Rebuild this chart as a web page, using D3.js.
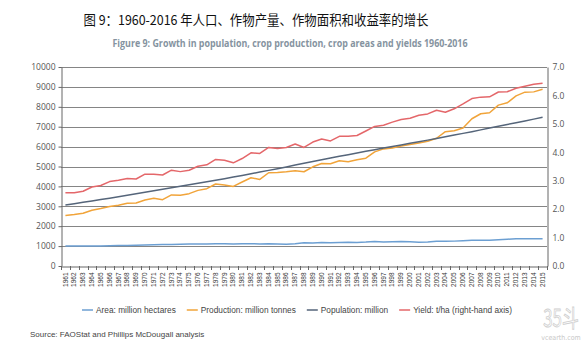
<!DOCTYPE html>
<html>
<head>
<meta charset="utf-8">
<script src="https://cdn.jsdelivr.net/npm/d3@7"></script>
<style>
  body { margin: 0; background: #fff; }
  svg { display: block; }
</style>
</head>
<body>
<div id="chart"></div>
<script>
const width = 584
const height = 347
const margin = ({top: 67, right: 37, bottom: 81, left: 61})

// one value per year, 1961-2015
const years = d3.range(1961, 2016)

const area = [1000, 1000, 1000, 1005, 1010, 1015, 1025, 1035, 1045, 1055,
  1065, 1080, 1085, 1095, 1100, 1105, 1110, 1115, 1115, 1110,
  1115, 1120, 1110, 1115, 1105, 1095, 1120, 1170, 1160, 1175,
  1170, 1185, 1190, 1180, 1200, 1230, 1210, 1220, 1225, 1215,
  1190, 1205, 1240, 1245, 1250, 1270, 1290, 1300, 1300, 1320,
  1345, 1365, 1370, 1370, 1375]

const production = [2535, 2585, 2650, 2800, 2885, 2985, 3050, 3150, 3170, 3320,
  3400, 3335, 3570, 3550, 3635, 3800, 3885, 4120, 4070, 4000,
  4220, 4435, 4350, 4685, 4700, 4735, 4785, 4735, 4985, 5150,
  5135, 5285, 5235, 5335, 5420, 5735, 5885, 5935, 6035, 6100,
  6185, 6270, 6420, 6750, 6800, 6935, 7400, 7650, 7700, 8085,
  8200, 8550, 8735, 8750, 8885]

const population = [3070, 3130, 3200, 3270, 3340, 3410, 3480, 3555, 3630, 3705,
  3785, 3860, 3935, 4010, 4085, 4160, 4235, 4310, 4390, 4470,
  4550, 4635, 4720, 4805, 4890, 4980, 5070, 5160, 5250, 5340,
  5425, 5510, 5595, 5680, 5765, 5845, 5925, 6005, 6085, 6165,
  6245, 6325, 6405, 6490, 6580, 6665, 6750, 6840, 6930, 7020,
  7110, 7200, 7290, 7380, 7470]

const yieldHa = [2.58, 2.58, 2.63, 2.78, 2.83, 2.97, 3.02, 3.08, 3.06, 3.23,
  3.23, 3.20, 3.37, 3.32, 3.37, 3.51, 3.56, 3.75, 3.72, 3.63,
  3.78, 3.98, 3.96, 4.17, 4.13, 4.17, 4.29, 4.17, 4.36, 4.47,
  4.40, 4.56, 4.56, 4.59, 4.75, 4.91, 4.95, 5.06, 5.15, 5.20,
  5.30, 5.35, 5.48, 5.41, 5.53, 5.70, 5.89, 5.94, 5.95, 6.12,
  6.13, 6.25, 6.32, 6.39, 6.43]

const leftTicks = d3.range(0, 10001, 1000)
const rightTicks = [0, 1, 2, 3, 4, 5, 6, 7]

const series = [
  {name: "Area: million hectares", values: area, color: "#6c9fd2", axis: "left"},
  {name: "Production: million tonnes", values: production, color: "#f1a43a", axis: "left"},
  {name: "Population: million", values: population, color: "#55657a", axis: "left"},
  {name: "Yield: t/ha (right-hand axis)", values: yieldHa, color: "#e4676a", axis: "right"}
]

const x = d3.scaleBand()
  .domain(years)
  .range([margin.left, width - margin.right])
  .padding(0)

const y = d3.scaleLinear()
  .domain([0, 10000])
  .range([height - margin.bottom, margin.top])

const y2 = d3.scaleLinear()
  .domain([0, 7])
  .range([height - margin.bottom, margin.top])

const svg = d3.select("#chart")
  .append("svg")
  .attr("width", width)
  .attr("height", height)
  .attr("viewBox", [0, 0, width, height])

// titles
svg.append("text")
  .attr("x", 256)
  .attr("y", 25)
  .attr("text-anchor", "middle")
  .attr("font-family", "Noto Sans CJK SC")
  .attr("font-size", 13.5)
  .attr("fill", "#111")
  .attr("textLength", 345)
  .attr("lengthAdjust", "spacingAndGlyphs")
  .text("图 9：1960-2016 年人口、作物产量、作物面积和收益率的增长")

svg.append("text")
  .attr("x", 290)
  .attr("y", 47)
  .attr("text-anchor", "middle")
  .attr("font-family", "Open Sans")
  .attr("font-weight", "bold")
  .attr("font-size", 10.5)
  .attr("fill", "#8593a0")
  .attr("textLength", 355)
  .attr("lengthAdjust", "spacingAndGlyphs")
  .text("Figure 9: Growth in population, crop production, crop areas and yields 1960-2016")

// horizontal gridlines from the left axis
svg.append("g")
  .attr("class", "grid")
  .selectAll("line")
  .data(leftTicks.filter(d => d > 0))
  .join("line")
  .attr("x1", margin.left)
  .attr("x2", width - margin.right)
  .attr("y1", d => Math.round(y(d)) + 0.5)
  .attr("y2", d => Math.round(y(d)) + 0.5)
  .attr("stroke", "#858585")
  .attr("stroke-width", 1)

const yAxis = g => g
  .attr("transform", `translate(${margin.left + 0.5},0)`)
  .call(d3.axisLeft(y).tickValues(leftTicks).tickSize(3).tickSizeOuter(0).tickFormat(d3.format("d")))
  .call(g => g.selectAll(".domain, .tick line").attr("stroke", "#666"))
  .call(g => g.selectAll("text")
    .attr("font-family", "Open Sans")
    .attr("font-size", 8.5)
    .attr("fill", "#555")
    .attr("x", -6))

const y2Axis = g => g
  .attr("transform", `translate(${width - margin.right + 0.5},0)`)
  .call(d3.axisRight(y2).tickValues(rightTicks).tickSize(0).tickSizeOuter(0).tickFormat(d3.format(".1f")))
  .call(g => g.selectAll(".domain").attr("stroke", "#666"))
  .call(g => g.selectAll("text")
    .attr("font-family", "Open Sans")
    .attr("font-size", 8.5)
    .attr("fill", "#555")
    .attr("x", 5))

const xAxis = g => g
  .attr("transform", `translate(0,${height - margin.bottom + 0.5})`)
  .call(d3.axisBottom(x).tickSize(0).tickSizeOuter(0))
  .call(g => g.select(".domain").attr("stroke", "#666"))
  .call(g => g.selectAll(".tick text")
    .attr("font-family", "Liberation Sans")
    .attr("font-size", 6.5)
    .attr("fill", "#333")
    .attr("text-anchor", "end")
    .attr("transform", "rotate(-90)")
    .attr("x", -6)
    .attr("y", 0)
    .attr("dy", "0.32em"))

svg.append("g").attr("class", "xaxis").call(xAxis)

// tick marks between the year bands
svg.append("g")
  .attr("class", "xticks")
  .selectAll("line")
  .data(years.concat([null]))
  .join("line")
  .attr("x1", (d, i) => Math.round(margin.left + i * x.step()) + 0.5)
  .attr("x2", (d, i) => Math.round(margin.left + i * x.step()) + 0.5)
  .attr("y1", height - margin.bottom)
  .attr("y2", height - margin.bottom + 4)
  .attr("stroke", "#666")

svg.append("g").attr("class", "yaxis").call(yAxis)
svg.append("g").attr("class", "yaxis2").call(y2Axis)

// the four series
series.forEach(s => {
  const scale = s.axis === "right" ? y2 : y
  const line = d3.line()
    .x((d, i) => x(years[i]) + x.bandwidth() / 2)
    .y(d => scale(d))
  svg.append("path")
    .datum(s.values)
    .attr("fill", "none")
    .attr("stroke", s.color)
    .attr("stroke-width", 1.5)
    .attr("stroke-linejoin", "round")
    .attr("d", line)
})

// legend, laid out left to right
const legend = svg.append("g")
  .attr("class", "legend")
  .attr("transform", "translate(82,310)")

let lx = 0
series.forEach(s => {
  legend.append("line")
    .attr("x1", lx)
    .attr("x2", lx + 11)
    .attr("stroke", s.color)
    .attr("stroke-width", 1.5)
  const t = legend.append("text")
    .attr("x", lx + 14)
    .attr("dy", "0.35em")
    .attr("font-family", "Liberation Sans")
    .attr("font-size", 8.3)
    .attr("fill", "#444")
    .text(s.name)
  lx += 14 + t.node().getComputedTextLength() + 11
})

svg.append("text")
  .attr("x", 30)
  .attr("y", 337)
  .attr("font-family", "Liberation Sans")
  .attr("font-size", 8)
  .attr("fill", "#444")
  .text("Source: FAOStat and Phillips McDougall analysis")

// site mark
svg.append("text")
  .attr("transform", "translate(561,327) scale(0.8,1.15)")
  .attr("text-anchor", "middle")
  .attr("font-family", "Noto Sans CJK SC")
  .attr("font-size", 21)
  .attr("fill", "none")
  .attr("stroke", "#cfcfcf")
  .attr("stroke-width", 0.8)
  .text("35斗")

svg.append("text")
  .attr("x", 561)
  .attr("y", 340)
  .attr("text-anchor", "middle")
  .attr("font-family", "DejaVu Sans Condensed")
  .attr("font-size", 7)
  .attr("fill", "#c8c8c8")
  .text("vcearth.com")
</script>
</body>
</html>
